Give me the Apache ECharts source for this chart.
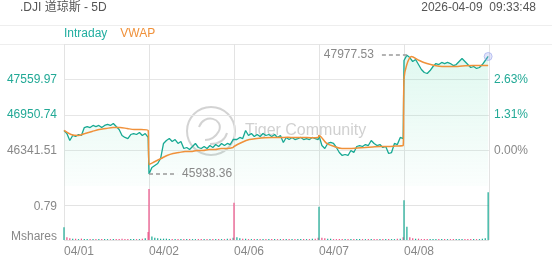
<!DOCTYPE html>
<html><head><meta charset="utf-8">
<script src="https://cdn.jsdelivr.net/npm/echarts@6/dist/echarts.min.js"></script>
<style>html,body{margin:0;padding:0;background:#fff}#c{width:552px;height:265px}</style>
</head><body><div id="c"></div>
<script>
// ---- data ----
const titleText = '.DJI 道琼斯 - 5D';
const timeText = '2026-04-09  09:33:48';
const days = ['04/01', '04/02', '04/06', '04/07', '04/08'];
const prevClose = 46341.51;
const priceStep = 609.23;
const volStep = 0.79;

const price0401 = [46685, 46633, 46513, 46599, 46582, 46616, 46599, 46736, 46753, 46736, 46771, 46753, 46771, 46736, 46771, 46788, 46771, 46805, 46753, 46702, 46599, 46565, 46547, 46616, 46633, 46616, 46650, 46599, 46633, 46565];
const price0402 = [45938.36, 46050, 46084, 46118, 46204, 46462, 46513, 46547, 46496, 46530, 46462, 46496, 46376, 46393, 46359, 46410, 46462, 46393, 46376, 46410, 46376, 46427, 46393, 46444, 46410, 46462, 46427, 46462, 46444, 46530];
const price0406 = [46513, 46530, 46565, 46547, 46685, 46599, 46633, 46582, 46616, 46582, 46633, 46599, 46616, 46582, 46616, 46565, 46599, 46479, 46565, 46530, 46565, 46530, 46547, 46565, 46530, 46547, 46530, 46565, 46547, 46530];
const price0407 = [46599, 46427, 46376, 46462, 46479, 46462, 46393, 46307, 46256, 46273, 46256, 46342, 46307, 46410, 46427, 46410, 46444, 46427, 46513, 46462, 46427, 46444, 46393, 46410, 46290, 46307, 46462, 46444, 46565, 46547];
const price0408 = [47886, 47977.53, 47937, 47869, 47903, 47817, 47731, 47680, 47663, 47714, 47783, 47834, 47817, 47852, 47834, 47852, 47834, 47800, 47817, 47869, 47920, 47869, 47817, 47766, 47783, 47749, 47766, 47817, 47886, 47955];

const vwap0401 = [46685, 46616, 46599, 46633, 46668, 46702, 46719, 46736, 46736, 46719, 46702, 46702, 46685];
const vwap0402 = [46101, 46153, 46204, 46256, 46290, 46307, 46324, 46324, 46342, 46342, 46359, 46359, 46376, 46376, 46393];
const vwap0406 = [46410, 46479, 46530, 46547, 46560, 46565, 46565, 46568, 46565, 46565, 46562, 46565];
const vwap0407 = [46599, 46462, 46410, 46376, 46376, 46385, 46393, 46402, 46410, 46410, 46418, 46427];
const vwap0408 = [47577, 47955, 47886, 47834, 47800, 47783, 47783, 47783, 47795, 47800, 47800, 47800];

const vol0401 = [0.29, 0.06, 0.04, 0.03, 0.03, 0.02, 0.03, 0.02, 0.02, 0.02, 0.02, 0.02, 0.02, 0.02, 0.02, 0.02, 0.02, 0.02, 0.02, 0.02, 0.03, 0.02, 0.02, 0.02, 0.02, 0.02, 0.02, 0.03, 0.04, 0.18];
const vol0402 = [1.15, 0.08, 0.05, 0.04, 0.03, 0.03, 0.03, 0.02, 0.02, 0.02, 0.02, 0.02, 0.02, 0.02, 0.02, 0.02, 0.02, 0.02, 0.02, 0.02, 0.02, 0.02, 0.02, 0.02, 0.02, 0.02, 0.02, 0.03, 0.03, 0.05];
const vol0406 = [0.84, 0.06, 0.04, 0.03, 0.03, 0.02, 0.02, 0.02, 0.02, 0.02, 0.02, 0.02, 0.02, 0.02, 0.02, 0.02, 0.02, 0.02, 0.02, 0.02, 0.02, 0.02, 0.02, 0.02, 0.02, 0.02, 0.02, 0.03, 0.03, 0.05];
const vol0407 = [0.75, 0.05, 0.04, 0.03, 0.03, 0.02, 0.02, 0.02, 0.02, 0.02, 0.02, 0.02, 0.02, 0.02, 0.02, 0.02, 0.02, 0.02, 0.02, 0.02, 0.02, 0.02, 0.02, 0.02, 0.02, 0.02, 0.02, 0.03, 0.03, 0.06];
const vol0408 = [0.90, 0.30, 0.06, 0.04, 0.03, 0.03, 0.02, 0.02, 0.02, 0.02, 0.02, 0.02, 0.02, 0.02, 0.02, 0.02, 0.02, 0.02, 0.02, 0.02, 0.02, 0.02, 0.02, 0.02, 0.02, 0.02, 0.02, 0.03, 0.04, 1.08];

// ---- build ----
const priceDays = [price0401, price0402, price0406, price0407, price0408];
const vwapDays = [vwap0401, vwap0402, vwap0406, vwap0407, vwap0408];
const volDays = [vol0401, vol0402, vol0406, vol0407, vol0408];
const TEAL = '#17a993', PINK = '#ec4f86', ORANGE = '#f0913a', LABEL_UP = '#22a996', GREY = '#888';
const FONT = '"Liberation Sans", Arial, "Noto Sans CJK SC", sans-serif';

function dayX(d, i, n) { return d + i / (n - 1) * 0.99; }

const priceData = [], vwapData = [], volData = [];
let prev = null, hi = { v: -Infinity }, lo = { v: Infinity };
priceDays.forEach((arr, d) => arr.forEach((v, i) => {
  const x = dayX(d, i, arr.length);
  priceData.push([x, v]);
  if (v > hi.v) hi = { v, x };
  if (v < lo.v) lo = { v, x };
  const up = prev === null || v >= prev;
  volData.push({ value: [x, volDays[d][i]], itemStyle: { color: up ? TEAL : PINK } });
  prev = v;
}));
vwapDays.forEach((arr, d) => arr.forEach((v, i) => vwapData.push([dayX(d, i, arr.length), v])));
const last = priceData[priceData.length - 1];

const pMin = +(prevClose - priceStep).toFixed(2);
const pMax = +(prevClose + 3 * priceStep).toFixed(2);

const areaGrad = { type: 'linear', x: 0, y: 0, x2: 0, y2: 1, colorStops: [
  { offset: 0, color: 'rgba(70,215,165,0.24)' }, { offset: 1, color: 'rgba(70,215,165,0.03)' }] };

const wm = 'rgba(175,175,175,0.55)';
const chart = echarts.init(document.getElementById('c'));
chart.setOption({
  animation: false,
  textStyle: { fontFamily: FONT },
  title: [
    { text: titleText, left: 20, top: 2, padding: 0, textStyle: { fontSize: 12, color: '#555', fontWeight: 'normal', fontFamily: FONT } },
    { text: timeText, right: 16, top: 2, padding: 0, textStyle: { fontSize: 12, color: '#555', fontWeight: 'normal', fontFamily: FONT } }
  ],
  legend: {
    left: 59, top: 28, padding: 0, itemWidth: 0, itemHeight: 0, itemGap: 8, icon: 'none',
    selectedMode: false,
    data: [
      { name: 'Intraday', textStyle: { color: '#22aea0' } },
      { name: 'VWAP', textStyle: { color: '#f0913a' } }
    ],
    textStyle: { fontSize: 12, fontFamily: FONT }
  },
  graphic: [
    { type: 'line', shape: { x1: 0, y1: 25.5, x2: 552, y2: 25.5 }, style: { stroke: '#eeeeee', lineWidth: 1 }, silent: true },
    { type: 'line', shape: { x1: 0, y1: 44.5, x2: 552, y2: 44.5 }, style: { stroke: '#eeeeee', lineWidth: 1 }, silent: true },
    { type: 'circle', shape: { cx: 211, cy: 131, r: 24 }, style: { fill: 'none', stroke: wm, lineWidth: 2 }, silent: true },
    { type: 'bezierCurve', shape: { x1: 199, y1: 127, x2: 219, y2: 131, cpx1: 204, cpy1: 113, cpx2: 224, cpy2: 118 }, style: { fill: 'none', stroke: wm, lineWidth: 2 }, silent: true },
    { type: 'bezierCurve', shape: { x1: 219, y1: 131, x2: 205, y2: 140, cpx1: 215, cpy1: 138, cpx2: 210, cpy2: 140 }, style: { fill: 'none', stroke: wm, lineWidth: 2 }, silent: true },
    { type: 'bezierCurve', shape: { x1: 210, y1: 144, x2: 227, y2: 133, cpx1: 220, cpy1: 144, cpx2: 225, cpy2: 140 }, style: { fill: 'none', stroke: wm, lineWidth: 2 }, silent: true },
    { type: 'text', left: 245, top: 123, style: { text: 'Tiger Community', fill: 'rgba(170,170,170,0.55)', fontSize: 16, fontFamily: FONT }, silent: true }
  ],
  grid: [
    { left: 64, right: 63, top: 44, height: 142 },
    { left: 64, right: 63, top: 170, height: 70 }
  ],
  xAxis: [
    { type: 'value', gridIndex: 0, min: 0, max: 5, interval: 1,
      axisLine: { show: false }, axisTick: { show: false }, axisLabel: { show: false },
      splitLine: { show: true, lineStyle: { color: '#e3e3e3' } } },
    { type: 'value', gridIndex: 1, min: 0, max: 5, interval: 1,
      axisLine: { show: false }, axisTick: { show: false },
      axisLabel: { show: true, align: 'left', margin: 6, color: GREY, fontSize: 12, fontFamily: FONT,
        formatter: v => days[Math.round(v)] || '' },
      splitLine: { show: true, lineStyle: { color: '#e3e3e3' } } }
  ],
  yAxis: [
    { type: 'value', gridIndex: 0, min: pMin, max: pMax, interval: priceStep,
      axisLine: { show: false }, axisTick: { show: false },
      axisLabel: { margin: 7, fontSize: 12, fontFamily: FONT,
        color: v => (v > prevClose + 1 ? LABEL_UP : GREY),
        formatter: v => (v < prevClose - 1 || v > prevClose + 2.5 * priceStep) ? '' : v.toFixed(2) },
      splitLine: { show: true, showMinLine: false, lineStyle: { color: '#e6e6e6' } } },
    { type: 'value', gridIndex: 0, position: 'right', min: pMin, max: pMax, interval: priceStep,
      axisLine: { show: false }, axisTick: { show: false },
      axisLabel: { margin: 5, fontSize: 12, fontFamily: FONT,
        color: v => (v > prevClose + 1 ? LABEL_UP : GREY),
        formatter: v => (v < prevClose - 1 || v > prevClose + 2.5 * priceStep) ? '' : ((v - prevClose) / prevClose * 100).toFixed(2) + '%' },
      splitLine: { show: false } },
    { type: 'value', gridIndex: 1, min: 0, max: 2 * volStep, interval: volStep,
      axisLine: { show: false }, axisTick: { show: false },
      axisLabel: { margin: 7, fontSize: 12, fontFamily: FONT, color: GREY,
        formatter: v => v < 0.01 ? '{m|Mshares}' : (v < 1 ? '{n|' + v.toFixed(2) + '}' : ''),
        rich: { m: { padding: [0, 0, 7, 0], fontSize: 12, color: GREY }, n: { padding: [4, 0, 0, 0], fontSize: 12, color: GREY } } },
      splitLine: { show: true, showMaxLine: false, lineStyle: { color: '#e3e3e3' } } }
  ],
  series: [
    { name: 'Intraday', type: 'line', xAxisIndex: 0, yAxisIndex: 0, data: priceData, showSymbol: false, symbol: 'none',
      lineStyle: { color: TEAL, width: 1.3 }, itemStyle: { color: TEAL },
      areaStyle: { origin: 'start', color: areaGrad },
      markLine: { silent: true, symbol: ['none', 'none'], animation: false,
        lineStyle: { color: '#9a9a9a', type: [4, 3], width: 1.5 },
        label: { show: true, position: 'end', distance: 5, color: '#888', fontSize: 12, fontFamily: FONT, formatter: p => Number(p.value).toFixed(2) },
        data: [
          [{ coord: [hi.x, hi.v], value: hi.v }, { coord: [hi.x - 0.33, hi.v], value: hi.v }],
          [{ coord: [lo.x, lo.v], value: lo.v }, { coord: [lo.x + 0.33, lo.v], value: lo.v }]
        ] },
      z: 3 },
    { name: 'VWAP', type: 'line', xAxisIndex: 0, yAxisIndex: 0, data: vwapData, showSymbol: false, symbol: 'none', smooth: 0.3,
      lineStyle: { color: ORANGE, width: 1.5 }, itemStyle: { color: ORANGE }, z: 4 },
    { name: 'last', type: 'scatter', xAxisIndex: 0, yAxisIndex: 0, data: [last], symbolSize: 8,
      itemStyle: { color: 'rgba(150,160,235,0.35)', borderColor: 'rgba(150,160,235,0.7)', borderWidth: 1 }, z: 5 },
    { name: 'Volume', type: 'bar', xAxisIndex: 1, yAxisIndex: 2, data: volData, barWidth: 1.2, barGap: '-100%' }
  ]
});
</script></body></html>
